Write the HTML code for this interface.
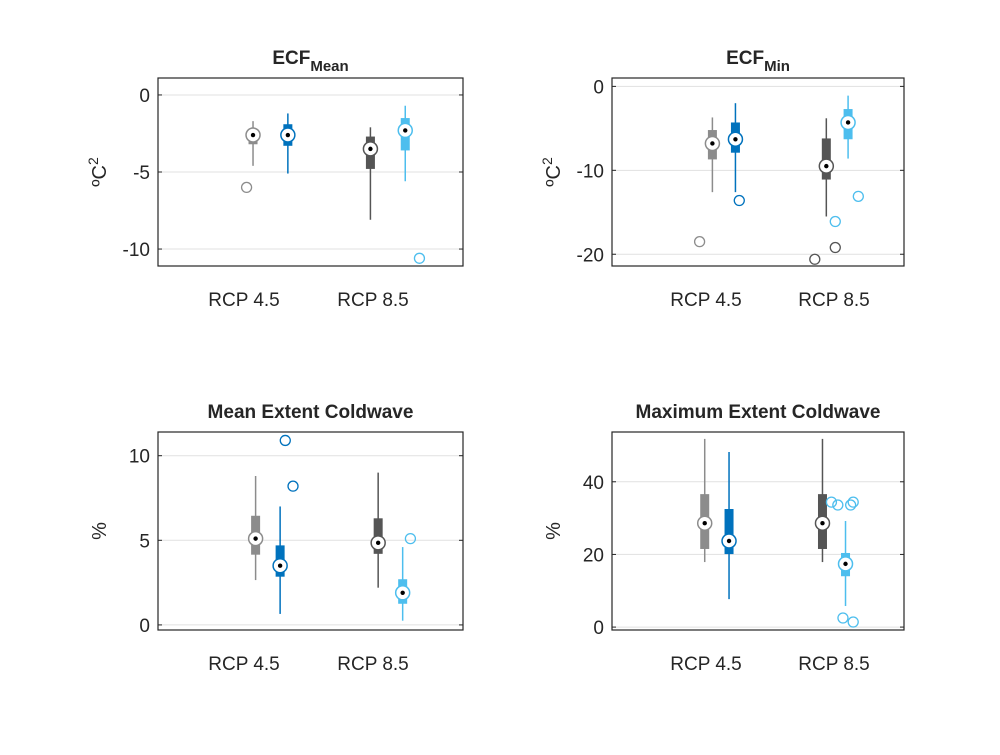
<!DOCTYPE html>
<html><head><meta charset="utf-8"><style>
body{margin:0;background:#fff;width:1000px;height:750px;overflow:hidden}
svg text{font-family:"Liberation Sans",Arial,sans-serif;fill:#262626}
</style></head><body>
<svg id="fig" width="1000" height="750"></svg>
<script>
const categories=["RCP 4.5","RCP 8.5"];
const seriesNames=["hist-4.5","rcp-4.5","hist-8.5","rcp-8.5"];
const colors=["#8c8c8c","#0072bd","#555555","#4dbeee"];
// [whiskerHigh, boxTop(q3), median, boxBottom(q1), whiskerLow]
const ecfMeanStats=[[-1.7,-2.3,-2.6,-3.2,-4.6],[-1.2,-1.9,-2.6,-3.3,-5.1],[-2.1,-2.7,-3.5,-4.8,-8.1],[-0.7,-1.5,-2.3,-3.6,-5.6]];
const ecfMeanPos=[1.07,1.34,1.98,2.25];
const ecfMeanOut=[[-6.0],[],[],[-10.6]];
const ecfMeanOutPos=[[1.02],[],[],[2.36]];
const ecfMinStats=[[-3.7,-5.2,-6.8,-8.7,-12.6],[-2.0,-4.3,-6.3,-7.9,-12.6],[-3.8,-6.2,-9.5,-11.1,-15.5],[-1.1,-2.7,-4.3,-6.3,-8.6]];
const ecfMinPos=[1.05,1.23,1.94,2.11];
const ecfMinOut=[[-18.5],[-13.6],[-20.6,-19.2],[-16.1,-13.1]];
const ecfMinOutPos=[[0.95],[1.26],[1.85,2.01],[2.01,2.19]];
const meanExtStats=[[8.8,6.45,5.1,4.15,2.65],[7.0,4.7,3.5,2.85,0.65],[9.0,6.3,4.85,4.2,2.2],[4.6,2.7,1.9,1.25,0.25]];
const meanExtPos=[1.09,1.28,2.04,2.23];
const meanExtOut=[[],[10.9,8.2],[],[5.1]];
const meanExtOutPos=[[],[1.32,1.38],[],[2.29]];
const maxExtStats=[[51.8,36.6,28.6,21.5,17.9],[48.2,32.5,23.7,20.1,7.7],[51.8,36.6,28.6,21.5,17.9],[29.2,20.4,17.4,14.0,5.8]];
const maxExtPos=[0.99,1.18,1.91,2.09];
const maxExtOut=[[],[],[],[34.4,33.6,33.6,34.4,2.5,1.4]];
const maxExtOutPos=[[],[],[],[1.98,2.03,2.13,2.15,2.07,2.15]];
const ecfMeanTicks=[0,-5,-10], ecfMinTicks=[0,-10,-20], meanExtTicks=[0,5,10], maxExtTicks=[0,20,40];

const NS="http://www.w3.org/2000/svg";
const fig=document.getElementById('fig');
function mk(tag,attrs,parent){const e=document.createElementNS(NS,tag);for(const k in attrs)e.setAttribute(k,attrs[k]);(parent||fig).appendChild(e);return e;}

function panel(p){
  const g=mk('g',{});
  
  
  const y=v=>p.y0+(p.ymax-v)/(p.ymax-p.ymin)*(p.y1-p.y0);
  const x=v=>p.t1+(v-1)*(p.t2-p.t1);
  // grid
  p.ticks.forEach(t=>{
    const l=mk('line',{x1:p.x0,x2:p.x1,y1:y(t),y2:y(t),stroke:'#e1e1e1','stroke-width':1},g);
    
    
    mk('line',{x1:p.x0,x2:p.x0+4,y1:y(t),y2:y(t),stroke:'#262626'},g);
    mk('line',{x1:p.x1,x2:p.x1-4,y1:y(t),y2:y(t),stroke:'#262626'},g);
    const tx=mk('text',{x:p.x0-8,y:y(t)+7,'text-anchor':'end','font-size':19},g);
    tx.textContent=t;
    
    
  });
  const fr=mk('rect',{x:p.x0,y:p.y0,width:p.x1-p.x0,height:p.y1-p.y0,fill:'none',stroke:'#262626','stroke-width':1.2},g);
  
  
  categories.forEach((c,i)=>{
    const t=mk('text',{x:x(i+1),y:p.y1+40,'text-anchor':'middle','font-size':19},g);
    t.textContent=c;
    
    
  });
  p.stats.forEach((s,i)=>{
    const cx=x(p.pos[i]),col=colors[i];
    const bg=mk('g',{},g);
    
    
    mk('line',{x1:cx,x2:cx,y1:y(s[0]),y2:y(s[4]),stroke:col,'stroke-width':1.5},bg);
    mk('rect',{x:cx-4.5,y:y(s[1]),width:9,height:y(s[3])-y(s[1]),fill:col},bg);
    mk('circle',{cx:cx,cy:y(s[2]),r:7,fill:'#fff',stroke:col,'stroke-width':1.5},bg);
    mk('circle',{cx:cx,cy:y(s[2]),r:2.2,fill:'#000'},bg);
    p.out[i].forEach((v,j)=>{
      const o=mk('circle',{cx:x(p.outPos[i][j]),cy:y(v),r:5,fill:'none',stroke:col,'stroke-width':1.3},bg);
      
      
    });
  });
  const tt=mk('text',{x:(p.x0+p.x1)/2,y:p.y0-14,'text-anchor':'middle','font-size':19,'font-weight':'bold'},g);
  
  
  if(p.sub){tt.innerHTML=p.title+'<tspan dy="7" font-size="15">'+p.sub+'</tspan>';}else tt.textContent=p.title;
  const yl=mk('text',{transform:`translate(${p.x0-52},${(p.y0+p.y1)/2}) rotate(-90)`,'text-anchor':'middle','font-size':20},g);
  
  
  if(p.ylab==='C')yl.innerHTML='ºC<tspan dy="-8" font-size="14">2</tspan>';else yl.textContent=p.ylab;
}
panel({name:'ecf-mean-panel',x0:158,x1:463,y0:78,y1:266,ymin:-11.1,ymax:1.1,t1:244,t2:373,ticks:ecfMeanTicks,stats:ecfMeanStats,pos:ecfMeanPos,out:ecfMeanOut,outPos:ecfMeanOutPos,title:'ECF',sub:'Mean',ylab:'C'});
panel({name:'ecf-min-panel',x0:612,x1:904,y0:78,y1:266,ymin:-21.4,ymax:1.0,t1:706,t2:834,ticks:ecfMinTicks,stats:ecfMinStats,pos:ecfMinPos,out:ecfMinOut,outPos:ecfMinOutPos,title:'ECF',sub:'Min',ylab:'C'});
panel({name:'mean-extent-panel',x0:158,x1:463,y0:432,y1:630,ymin:-0.3,ymax:11.4,t1:244,t2:373,ticks:meanExtTicks,stats:meanExtStats,pos:meanExtPos,out:meanExtOut,outPos:meanExtOutPos,title:'Mean Extent Coldwave',ylab:'%'});
panel({name:'max-extent-panel',x0:612,x1:904,y0:432,y1:630,ymin:-0.8,ymax:53.7,t1:706,t2:834,ticks:maxExtTicks,stats:maxExtStats,pos:maxExtPos,out:maxExtOut,outPos:maxExtOutPos,title:'Maximum Extent Coldwave',ylab:'%'});
</script>
</body></html>
